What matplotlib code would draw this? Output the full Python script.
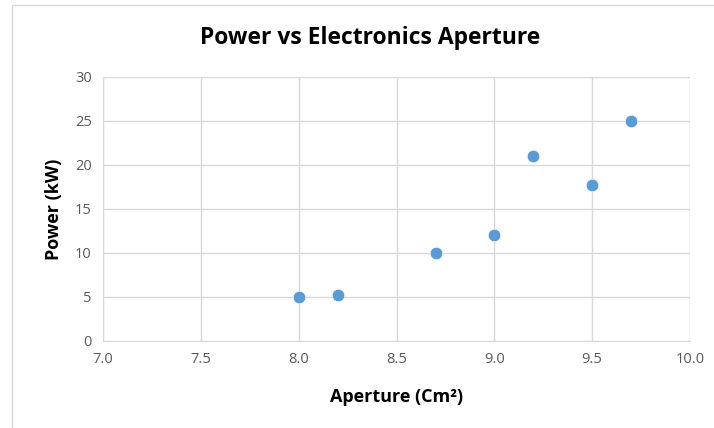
import matplotlib
matplotlib.use('Agg')
import matplotlib.pyplot as plt
from matplotlib.patches import Rectangle

# Aperture vs power readings
aperture = [8.0, 8.2, 8.7, 9.0, 9.2, 9.5, 9.7]
power = [5.0, 5.2, 10.0, 12.0, 21.0, 17.7, 25.0]

x_ticks = [7.0, 7.5, 8.0, 8.5, 9.0, 9.5, 10.0]
y_ticks = [0, 5, 10, 15, 20, 25, 30]

plt.rcParams['font.family'] = ['Open Sans', 'DejaVu Sans']

fig = plt.figure(figsize=(7.14, 4.28), dpi=100)
ax = fig.add_axes([0.1443, 0.2033, 0.8221, 0.6168])

# Chart frame border
fig.patches.append(Rectangle((12 / 714, -0.1), 1.2, 1.1 - 5 / 428,
                             transform=fig.transFigure, fill=False,
                             edgecolor='#D9D9D9', linewidth=1))

ax.scatter(aperture, power, s=80, color='#5B9BD5', edgecolors='white',
           linewidths=0.4, zorder=3)

ax.set_xlim(7.0, 10.0)
ax.set_ylim(0, 30)
ax.set_xticks(x_ticks)
ax.set_xticklabels([f'{v:.1f}' for v in x_ticks])
ax.set_yticks(y_ticks)

ax.grid(True, color='#D9D9D9', linewidth=1)
ax.set_axisbelow(True)
for side in ['top', 'right']:
    ax.spines[side].set_visible(False)
for side in ['left', 'bottom']:
    ax.spines[side].set_color('#D9D9D9')
ax.tick_params(length=0, labelsize=10.5, labelcolor='#595959', pad=8)

ax.set_xlabel('Aperture (Cm\u00b2)', fontsize=13, fontweight='bold', labelpad=15)
ax.set_ylabel('Power (kW)', fontsize=13, fontweight='bold', labelpad=9)
fig.text(0.518, 0.912, 'Power vs Electronics Aperture', ha='center',
         va='center', fontsize=16.5, fontweight='bold')

fig.savefig('out.png', dpi=100)
